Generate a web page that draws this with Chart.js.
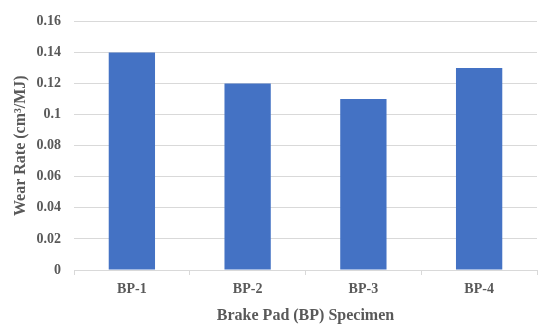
<!DOCTYPE html>
<html>
<head>
<meta charset="utf-8">
<script src="https://cdn.jsdelivr.net/npm/chart.js@4/dist/chart.umd.min.js"></script>
<style>
    html, body { margin: 0; padding: 0; background: #fff; }
    #wrap { width: 550px; height: 331px; position: relative; }
</style>
</head>
<body>
<div id="wrap"><canvas id="chart"></canvas></div>
<script>
// ========== DATA ==========
const categories = ['BP-1', 'BP-2', 'BP-3', 'BP-4'];
const wearRate = [0.14, 0.12, 0.11, 0.13];
const yTicks = [0, 0.02, 0.04, 0.06, 0.08, 0.1, 0.12, 0.14, 0.16];

// ========== STYLE ==========
const fontFamily = "'Liberation Serif', 'DejaVu Serif', serif";
const textColor = '#595959';
const gridColor = '#d9d9d9';

// ========== CHART ==========
const ctx = document.getElementById('chart').getContext('2d');
new Chart(ctx, {
    type: 'bar',
    data: {
        labels: categories,
        datasets: [{
            data: wearRate,
            backgroundColor: '#4472c4',
            categoryPercentage: 1,
            barPercentage: 0.4
        }]
    },
    options: {
        responsive: true,
        maintainAspectRatio: false,
        animation: false,
        layout: { padding: { top: 12, right: 13, bottom: 6, left: 0 } },
        plugins: {
            legend: { display: false },
            tooltip: { enabled: false }
        },
        scales: {
            x: {
                grid: { drawOnChartArea: false, drawTicks: true, tickLength: 5, color: gridColor },
                border: { display: true, color: gridColor },
                ticks: { color: textColor, font: { family: fontFamily, size: 14, weight: 'bold' }, padding: 6 },
                title: {
                    display: true,
                    text: 'Brake Pad (BP) Specimen',
                    color: textColor,
                    font: { family: fontFamily, size: 16, weight: 'bold' },
                    padding: { top: 2, bottom: 0 }
                }
            },
            y: {
                min: 0,
                max: 0.16,
                afterBuildTicks: axis => { axis.ticks = yTicks.map(v => ({ value: v })); },
                afterFit: axis => { axis.width = 74; },
                grid: { color: gridColor, drawTicks: false },
                border: { display: false },
                ticks: {
                    color: textColor,
                    font: { family: fontFamily, size: 14, weight: 'bold' },
                    padding: 13,
                    callback: v => String(+v.toFixed(2))
                },
                title: {
                    display: true,
                    text: 'Wear Rate (cm³/MJ)',
                    color: textColor,
                    font: { family: fontFamily, size: 16, weight: 'bold' },
                    padding: { top: 11, bottom: 0 }
                }
            }
        }
    }
});
</script>
</body>
</html>
